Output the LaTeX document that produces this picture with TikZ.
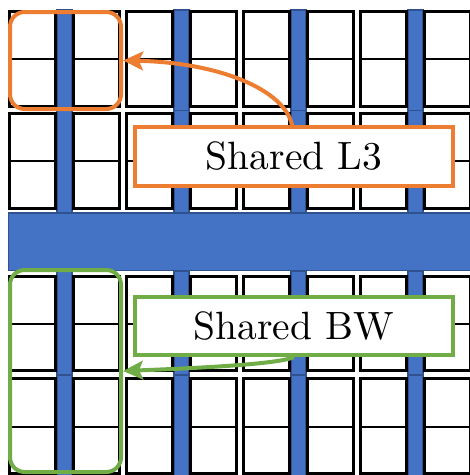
\documentclass[tikz,border=0pt]{standalone}
\usetikzlibrary{arrows.meta}
\definecolor{cblue}{HTML}{4472C4}
\definecolor{cdblue}{HTML}{2F528F}
\definecolor{corange}{HTML}{ED7D31}
\definecolor{cgreen}{HTML}{70AD47}
\tikzset{
  cell/.style={draw=black, fill=white, line width=2.2pt},
  bluebar/.style={draw=cdblue, fill=cblue, line width=0.8pt},
  grp/.style={line width=3pt, rounded corners=11pt},
  label/.style={draw, fill=white, line width=3pt, inner sep=0pt,
     minimum width=238.5pt, minimum height=44pt},
  conn/.style={line width=3pt, -{Stealth[length=15pt,width=14pt,inset=3pt]}}
}
\begin{document}
\begin{tikzpicture}[x=0.75pt,y=-0.75pt]
\useasboundingbox (0,0) rectangle (470,475);
\clip (0,0) rectangle (470,475);
% vertical blue bars (segments)
\foreach \k in {0,1,2,3}{
  \pgfmathsetmacro{\g}{8+117*\k}
  \foreach \ya/\yb in {10/110.5, 110.5/213, 271/375, 375/480}{
    \draw[bluebar] (\g+49,\ya) rectangle (\g+64,\yb);
  }
}
% horizontal bar
\draw[bluebar] (8.5,213) rectangle (480,270.5);
% cells
\foreach \k in {0,1,2,3}{
  \pgfmathsetmacro{\g}{8+117*\k}
  \foreach \xa/\xb in {1.5/47.5, 65.5/111.5}{
    \foreach \ya/\yb/\yc in {11.5/59/106.5, 113.5/161/208.5, 276.5/324/370.5, 378.5/427/473.5}{
      \draw[cell] (\g+\xa,\ya) rectangle (\g+\xb,\yb);
      \draw[cell] (\g+\xa,\yb) rectangle (\g+\xb,\yc);
    }
  }
}
% group outlines
\node[grp, draw=corange, inner sep=0pt, minimum width=83.25pt, minimum height=72.75pt] (l3grp) at (65.5,60.5) {};
\node[grp, draw=cgreen, inner sep=0pt, minimum width=83.25pt, minimum height=151.5pt] (bwgrp) at (65.5,371) {};
% labels
\node[label, draw=corange] (l3) at (294,156.5) {\scalebox{2.96}{Shared L3}};
\node[label, draw=cgreen, minimum height=43.5pt] (bw) at (294,326) {\scalebox{2.96}{Shared BW}};
% connectors
\draw[conn, corange] ([xshift=-1.5pt]l3.north) .. controls +(-7,-35) and +(97,2) .. (l3grp.east);
\draw[conn, cgreen] (bw.south) .. controls +(-14,7) and +(77,-3) .. (bwgrp.east);
\end{tikzpicture}
\end{document}
